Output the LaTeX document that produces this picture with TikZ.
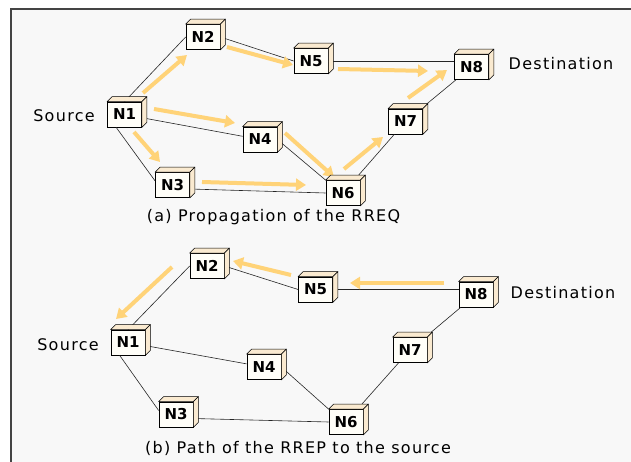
\documentclass[tikz,border=0pt]{standalone}
\usepackage{fontspec}
\setmainfont{DejaVu Sans}
\newfontfamily\capfont{DejaVu Sans}[LetterSpace=8]
\usetikzlibrary{arrows.meta}

\definecolor{paper}{RGB}{248,248,248}
\definecolor{rim}{RGB}{68,68,68}
\definecolor{boxfront}{RGB}{255,254,248}
\definecolor{boxside}{RGB}{250,234,208}
\definecolor{flowcol}{RGB}{255,211,120}

\tikzset{
  nodebox/.style = {draw = black, fill = boxfront, line width = 0.7pt,
    minimum width = 34pt, minimum height = 25pt, inner sep = 0pt,
    font = \bfseries\fontsize{15}{15}\selectfont},
  cubeface/.style = {draw = black, fill = boxside, line width = 0.6pt, line join = round},
  link/.style = {draw = black!85, line width = 0.6pt},
  flow/.style = {draw = flowcol, line width = 4pt,
    -{Triangle[length = 10pt, width = 12pt]}},
  tag/.style = {font = \capfont\fontsize{16}{16}\selectfont}
}

\begin{document}
\begin{tikzpicture}[x = 1pt, y = -1pt]
    \useasboundingbox (0, 0) rectangle (631, 462);
    \fill[paper] (11, 9.5) rectangle (631, 462);
    \draw[rim, line width = 2pt] (11, 462) -- (11, 9.5) -- (631, 9.5);

    % (a) propagation of the RREQ
    \node[nodebox] (a1) at (124.5, 114.5) {N1};
    \node[nodebox] (a2) at (203, 37) {N2};
    \node[nodebox] (a3) at (172.5, 185) {N3};
    \node[nodebox] (a4) at (260, 139.5) {N4};
    \node[nodebox] (a5) at (311, 61) {N5};
    \node[nodebox] (a6) at (343, 193) {N6};
    \node[nodebox] (a7) at (405.5, 121.5) {N7};
    \node[nodebox] (a8) at (471.5, 67) {N8};

    \node[tag] (srca) at (64, 116) {Source};
    \node[tag] (dsta) at (561, 64) {Destination};
    \node[tag] (capa) at (273.5, 217) {(a) Propagation of the RREQ};

    % (b) path of the RREP
    \node[nodebox] (b1) at (128, 342.5) {N1};
    \node[nodebox] (b2) at (207, 266) {N2};
    \node[nodebox] (b3) at (176, 414.5) {N3};
    \node[nodebox] (b4) at (264, 367) {N4};
    \node[nodebox] (b5) at (315.5, 289.5) {N5};
    \node[nodebox] (b6) at (346, 422) {N6};
    \node[nodebox] (b7) at (410, 350) {N7};
    \node[nodebox] (b8) at (476, 294.5) {N8};

    \node[tag] (srcb) at (68, 345) {Source};
    \node[tag] (dstb) at (563, 293) {Destination};
    \node[tag] (capb) at (298, 448) {(b) Path of the RREP to the source};

    % links, same in both panels
    \foreach \p in {a, b} {
      \draw[link] (\p1.north) -- (\p2.west);
      \draw[link] (\p2.east) -- (\p5.west);
      \draw[link] (\p5.east) -- (\p5.east -| \p8.west);
      \draw[link] (\p1) -- (\p4);
      \draw[link] ([shift = {(9, 0)}]\p1.south west) -- ([shift = {(0, -4)}]\p3.west);
      \draw[link] (\p4.east) -- (\p6.north west);
      \draw[link] ([shift = {(0, 4)}]\p3.east) -- (\p6.west);
      \draw[link] (\p6) -- (\p7);
      \draw[link] (\p7) -- (\p8);
    }

    % RREQ flooding
    \draw[flow] ([shift = {(18.5, -21.5)}]a1.center) -- ([shift = {(-16, 18)}]a2.center);
    \draw[flow] ([shift = {(24, 10)}]a2.center) -- ([shift = {(-18, 4)}]a5.center);
    \draw[flow] ([shift = {(27, 8)}]a5.center) -- ([shift = {(-43.5, 4)}]a8.center);
    \draw[flow] ([shift = {(29.5, -5.5)}]a1.center) -- ([shift = {(-25, -16.5)}]a4.center);
    \draw[flow] ([shift = {(9.5, 17.5)}]a1.center) -- ([shift = {(-12.5, -23)}]a3.center);
    \draw[flow] ([shift = {(25, -6.5)}]a4.center) -- ([shift = {(-9, -16)}]a6.center);
    \draw[flow] ([shift = {(29.5, -3)}]a3.center) -- ([shift = {(-37, -8)}]a6.center);
    \draw[flow] ([shift = {(1, -24)}]a6.center) -- ([shift = {(-22.5, 15.5)}]a7.center);
    \draw[flow] ([shift = {(2.5, -23.5)}]a7.center) -- ([shift = {(-24.5, 3)}]a8.center);

    % RREP back to the source
    \draw[flow] ([shift = {(-32, -11.5)}]b8.center) -- ([shift = {(34.5, -6.5)}]b5.center);
    \draw[flow] ([shift = {(-24.5, -14.5)}]b5.center) -- ([shift = {(26, -5)}]b2.center);
    \draw[flow] ([shift = {(-35, 1)}]b2.center) -- ([shift = {(-12, -23.5)}]b1.center);

    % top and side of every box
    \foreach \n in {a1, a2, a3, a4, a5, a6, a7, a8, b1, b2, b3, b4, b5, b6, b7, b8} {
      \filldraw[cubeface] (\n.north west) -- ([shift = {(5, -5)}]\n.north west)
        -- ([shift = {(5, -5)}]\n.north east) -- (\n.north east) -- cycle;
      \filldraw[cubeface] (\n.north east) -- ([shift = {(5, -5)}]\n.north east)
        -- ([shift = {(5, -5)}]\n.south east) -- (\n.south east) -- cycle;
    }
  \end{tikzpicture}
\end{document}
